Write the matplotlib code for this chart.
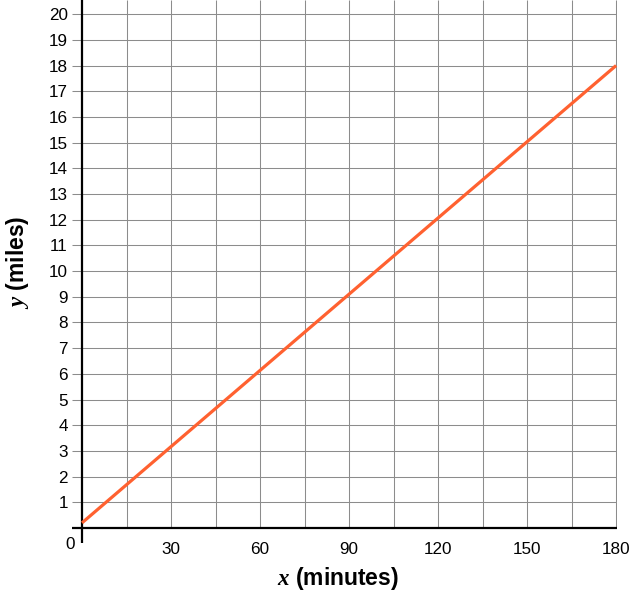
import matplotlib
matplotlib.use("Agg")
import matplotlib.pyplot as plt
import numpy as np

# Data
line_x = [0, 180]
line_y = [0.2, 18]
x_grid = list(range(15, 181, 15))
x_tick_vals = [30, 60, 90, 120, 150, 180]
x_tick_labels = ["30", "60", "90", "120", "150", "180"]
y_tick_vals = list(range(1, 21))
y_tick_labels = [str(v) for v in y_tick_vals]

plt.rcParams['font.family'] = ['Liberation Sans', 'DejaVu Sans']
plt.rcParams['mathtext.fontset'] = 'custom'
plt.rcParams['mathtext.it'] = 'Liberation Serif:italic:bold'
plt.rcParams['mathtext.rm'] = 'Liberation Sans:bold'

fig = plt.figure(figsize=(6.33, 6.00), dpi=100)
ax = fig.add_axes([72/633, 57/600, (617-72)/633, 543/600])

xmin, xmax = -3.37, 180.3
ymin, ymax = -0.584, 20.55
ax.set_xlim(xmin, xmax)
ax.set_ylim(ymin, ymax)

grid_c = '#8c8c8c'
ax.hlines(y_tick_vals, xmin, 180, colors=grid_c, linewidth=0.75, zorder=1)
ax.vlines(x_grid, 0, ymax, colors=grid_c, linewidth=0.75, zorder=1)

ax.axhline(0, color='black', linewidth=1.6, zorder=3)
ax.axvline(0, color='black', linewidth=1.6, zorder=3)

ax.plot(line_x, line_y, color='#ff6130', linewidth=2.3, zorder=4, solid_capstyle='butt')

for s in ax.spines.values():
    s.set_visible(False)

ax.set_yticks(y_tick_vals)
ax.set_yticklabels(y_tick_labels)
ax.set_xticks(x_tick_vals)
ax.set_xticklabels(x_tick_labels)
ax.tick_params(axis='y', length=0, pad=3, labelsize=12.3)
ax.tick_params(axis='x', length=0, pad=-1, labelsize=12.3)

ax.text(-4.0, -0.66, "0", ha='center', va='center', fontsize=12.3, clip_on=False)

fig.text(338/633, 1 - 578/600, r"$x$ (minutes)", ha='center', va='center',
         fontsize=16.5, fontweight='bold')
fig.text(18/633, 1 - 262/600, r"$y$ (miles)", ha='center', va='center',
         fontsize=16.5, fontweight='bold', rotation=90)

fig.savefig("out.png", dpi=100)
